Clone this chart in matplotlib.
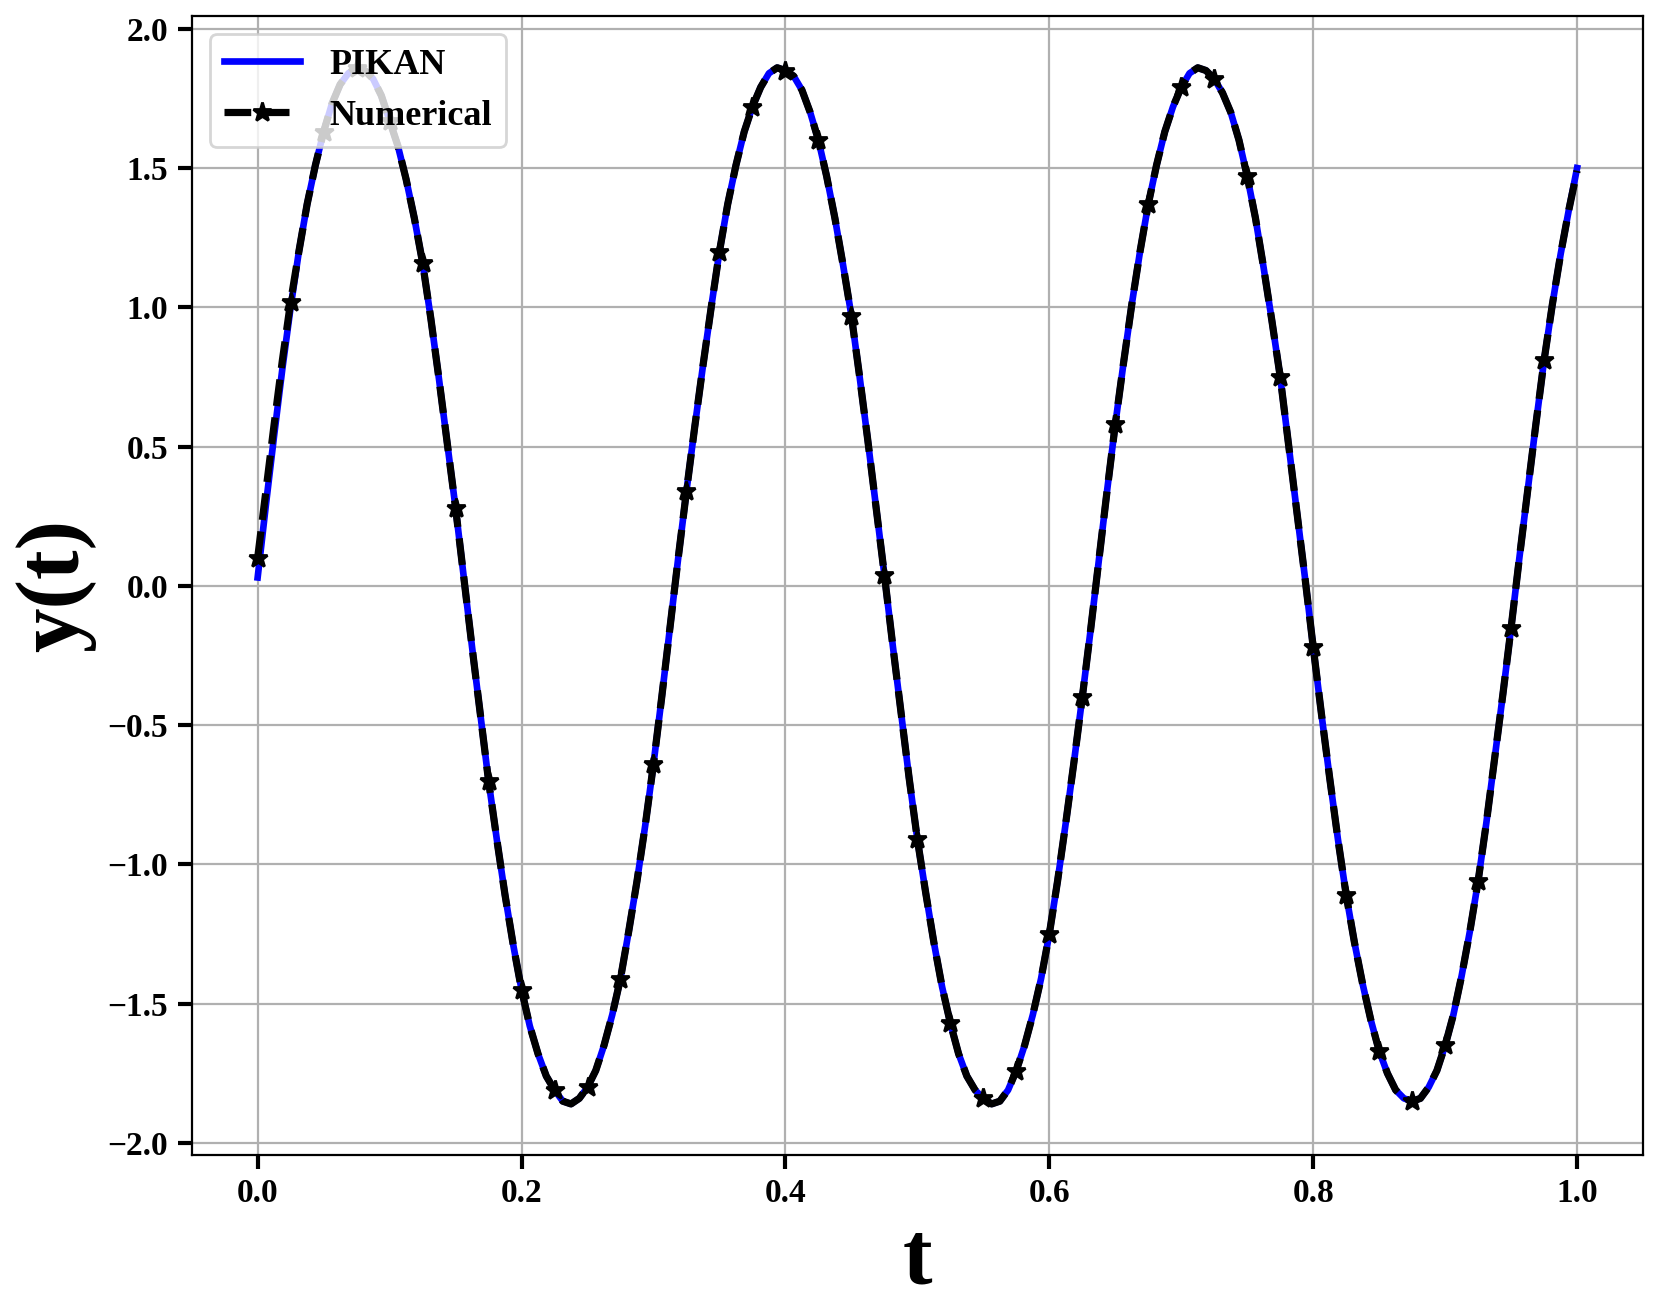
import numpy as np
import matplotlib
matplotlib.use("Agg")
import matplotlib.pyplot as plt

# time grid, step 0.00625
t = np.linspace(0.0, 1.0, 161)

# numerical solution, values
y_num = [0.10, 0.34, 0.58, 0.81, 1.02, 1.20, 1.37, 1.51, 1.63, 1.73,
         1.80, 1.84, 1.86, 1.85, 1.82, 1.76, 1.67, 1.58, 1.46, 1.32,
         1.16, 0.96, 0.74, 0.51, 0.28, 0.03, -0.22, -0.46, -0.70, -0.91,
         -1.11, -1.29, -1.45, -1.58, -1.68, -1.76, -1.81, -1.85, -1.86, -1.84,
         -1.80, -1.74, -1.65, -1.54, -1.41, -1.24, -1.06, -0.86, -0.64, -0.40,
         -0.15, 0.10, 0.34, 0.57, 0.79, 1.00, 1.20, 1.37, 1.51, 1.63,
         1.72, 1.79, 1.84, 1.86, 1.85, 1.83, 1.78, 1.70, 1.60, 1.47,
         1.32, 1.15, 0.97, 0.75, 0.52, 0.28, 0.04, -0.21, -0.45, -0.69,
         -0.91, -1.10, -1.28, -1.44, -1.57, -1.68, -1.76, -1.81, -1.84, -1.86,
         -1.85, -1.81, -1.74, -1.65, -1.54, -1.41, -1.25, -1.06, -0.85, -0.63,
         -0.40, -0.16, 0.09, 0.34, 0.58, 0.80, 1.01, 1.20, 1.37, 1.51,
         1.63, 1.72, 1.79, 1.84, 1.86, 1.85, 1.82, 1.77, 1.70, 1.60,
         1.47, 1.32, 1.14, 0.95, 0.75, 0.51, 0.27, 0.03, -0.22, -0.46,
         -0.69, -0.91, -1.11, -1.28, -1.43, -1.56, -1.67, -1.75, -1.81, -1.84,
         -1.85, -1.84, -1.80, -1.74, -1.65, -1.54, -1.40, -1.24, -1.06, -0.85,
         -0.62, -0.39, -0.15, 0.10, 0.34, 0.58, 0.81, 1.01, 1.19, 1.35,
         1.49]

# PIKAN prediction: starts a bit lower, then follows the numerical curve
pikan_start = [0.03, 0.29, 0.54, 0.78, 1.00]
y_pikan = pikan_start + y_num[len(pikan_start):-1] + [1.50]

yticks = [-2.0, -1.5, -1.0, -0.5, 0.0, 0.5, 1.0, 1.5, 2.0]
xticks = [0.0, 0.2, 0.4, 0.6, 0.8, 1.0]

plt.rcParams['font.family'] = 'serif'
plt.rcParams['font.serif'] = ['Liberation Serif', 'DejaVu Serif']
plt.rcParams['font.weight'] = 'bold'

fig = plt.figure(figsize=(8.305, 6.58), dpi=200)
ax = fig.add_axes([0.1154, 0.1226, 0.8738, 0.8653])

ax.plot(t, y_pikan, color='blue', lw=2.4, label='PIKAN')
# a star every 0.025, none at t = 1
ax.plot(t, y_num, color='black', ls='--', lw=2.6, marker='*',
        markersize=7, markevery=list(range(0, 160, 4)), label='Numerical')

ax.set_xlim(-0.05, 1.05)
ax.set_ylim(-2.042, 2.046)
ax.set_xticks(xticks)
ax.set_yticks(yticks)
ax.tick_params(labelsize=12, width=1.5, length=5)
for lab in ax.get_xticklabels() + ax.get_yticklabels():
    lab.set_fontweight('bold')

ax.set_xlabel('t', fontsize=32, fontweight='bold')
ax.set_ylabel('y(t)', fontsize=32, fontweight='bold')
ax.grid(True, color='#b0b0b0', lw=0.8)

ax.legend(loc='upper left', handlelength=2.1,
          prop={'size': 13, 'weight': 'bold'})

fig.savefig('out.png', dpi=200)
